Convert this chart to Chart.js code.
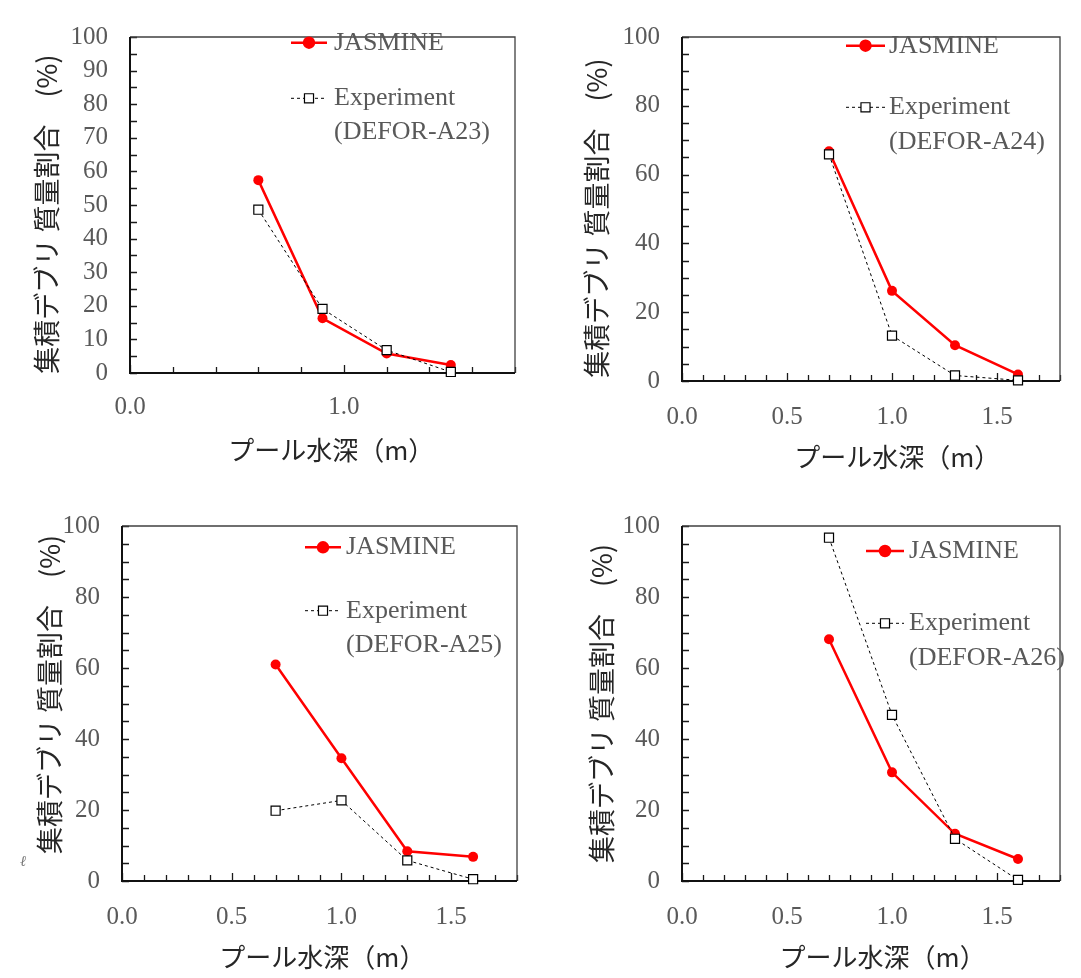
<!DOCTYPE html>
<html><head><meta charset="utf-8">
<script src="https://cdn.jsdelivr.net/npm/chart.js@4.4.1/dist/chart.umd.min.js"></script>
<style>
html,body{margin:0;padding:0;background:#fff;}
body{width:1081px;height:978px;position:relative;overflow:hidden;}
.p{position:absolute;}
#mark{position:absolute;left:20px;top:853px;font:italic 15px 'Liberation Serif';color:#777;}
</style></head><body>
<div class="p" style="left:0;top:0;"><canvas id="c1" width="540" height="489"></canvas></div>
<div class="p" style="left:540px;top:0;"><canvas id="c2" width="541" height="489"></canvas></div>
<div class="p" style="left:0;top:489px;"><canvas id="c3" width="540" height="489"></canvas></div>
<div class="p" style="left:540px;top:489px;"><canvas id="c4" width="541" height="489"></canvas></div>
<span id="mark">ℓ</span>
<script>
// ---- data ----
const depthA23 = [0.6, 0.9, 1.2, 1.5];
const depthA24 = [0.7, 1.0, 1.3, 1.6];
const depthA25 = [0.7, 1.0, 1.3, 1.6];
const depthA26 = [0.7, 1.0, 1.3, 1.6];

const jasmineA23 = [57.4, 16.3, 5.8, 2.4];
const experimentA23 = [48.6, 19.1, 6.8, 0.3];
const jasmineA24 = [66.8, 26.2, 10.4, 1.9];
const experimentA24 = [65.9, 13.2, 1.6, 0.2];
const jasmineA25 = [61.0, 34.6, 8.4, 6.8];
const experimentA25 = [19.8, 22.7, 5.8, 0.5];
const jasmineA26 = [68.1, 30.6, 13.3, 6.2];
const experimentA26 = [96.7, 46.8, 11.9, 0.3];

const seriesNames = ['JASMINE', 'Experiment'];
const caseNames = ['(DEFOR-A23)', '(DEFOR-A24)', '(DEFOR-A25)', '(DEFOR-A26)'];
const yTitle = '集積デブリ 質量割合　(%)';
const xTitle = 'プール水深（m）';

const xLabelsA23 = [0.0, 1.0];
const xLabels = [0.0, 0.5, 1.0, 1.5];
const yLabelsA23 = [0, 10, 20, 30, 40, 50, 60, 70, 80, 90, 100];
const yLabels = [0, 20, 40, 60, 80, 100];

// ---- plugins ----
const has = (arr, v) => arr.some(t => Math.abs(t - v) < 1e-6);

const framePlugin = {
  id: 'frame',
  beforeDatasetsDraw(chart) {
    const {ctx, chartArea: a, scales: {x, y}} = chart;
    const xl = chart.options.plugins.frame.xLabels;
    ctx.save();
    ctx.strokeStyle = '#1a1a1a';
    ctx.lineWidth = 1.3;
    ctx.beginPath();
    x.ticks.forEach(t => {
      const px = Math.round(x.getPixelForValue(t.value)) + 0.5;
      const len = has(xl, t.value) ? 8 : 6;
      ctx.moveTo(px, a.bottom); ctx.lineTo(px, a.bottom - len);
    });
    y.ticks.forEach(t => {
      const py = Math.round(y.getPixelForValue(t.value)) + 0.5;
      ctx.moveTo(a.left, py); ctx.lineTo(a.left + 7, py);
    });
    ctx.stroke();
    ctx.strokeStyle = '#404040';
    ctx.lineWidth = 1.3;
    ctx.beginPath();
    ctx.moveTo(a.left, a.top); ctx.lineTo(a.right, a.top); ctx.lineTo(a.right, a.bottom);
    ctx.stroke();
    ctx.strokeStyle = '#111';
    ctx.lineWidth = 2;
    ctx.beginPath();
    ctx.moveTo(a.left, a.top); ctx.lineTo(a.left, a.bottom); ctx.lineTo(a.right, a.bottom);
    ctx.stroke();
    ctx.restore();
  }
};

const legendPlugin = {
  id: 'inLegend',
  afterDraw(chart) {
    const o = chart.options.plugins.inLegend;
    const ctx = chart.ctx;
    const ds = chart.data.datasets;
    ctx.save();
    ctx.font = '26px "Liberation Serif"';
    ctx.fillStyle = '#595959';
    ctx.textBaseline = 'middle';
    ctx.textAlign = 'left';
    [0, 1].forEach(i => {
      const d = ds[i];
      const yy = o.rows[i];
      ctx.save();
      ctx.strokeStyle = d.borderColor;
      ctx.lineWidth = d.borderWidth;
      ctx.setLineDash(d.borderDash || []);
      ctx.beginPath(); ctx.moveTo(o.x0, yy); ctx.lineTo(o.x1, yy); ctx.stroke();
      ctx.setLineDash([]);
      const cx = (o.x0 + o.x1) / 2;
      ctx.fillStyle = d.pointBackgroundColor || d.backgroundColor;
      ctx.strokeStyle = d.pointBorderColor || d.borderColor;
      ctx.lineWidth = d.pointBorderWidth || 0;
      ctx.beginPath();
      if (d.pointStyle === 'rect') {
        const s = d.pointRadius * Math.SQRT1_2;
        ctx.rect(cx - s, yy - s, 2 * s, 2 * s);
      } else {
        ctx.arc(cx, yy, d.pointRadius, 0, Math.PI * 2);
      }
      ctx.fill();
      if (ctx.lineWidth) ctx.stroke();
      ctx.restore();
      ctx.fillText(d.label, o.textX, yy);
    });
    ctx.fillText(o.caseName, o.textX, o.rows[2]);
    ctx.restore();
  }
};

function pts(xs, ys) { return xs.map((v, i) => ({x: v, y: ys[i]})); }
const sp = n => ' '.repeat(n);

function makeChart(id, depth, jas, exp, caseName, xl, yl, xStep, L, leg) {
  return new Chart(document.getElementById(id), {
    type: 'line',
    data: {
      datasets: [
        {label: seriesNames[0], data: pts(depth, jas), borderColor: '#ff0000', backgroundColor: '#ff0000',
         borderWidth: 2.5, pointStyle: 'circle', pointRadius: 5, pointBorderWidth: 0, pointHoverRadius: 5,
         order: 1, clip: false},
        {label: seriesNames[1], data: pts(depth, exp), borderColor: '#000000', backgroundColor: '#ffffff',
         borderWidth: 1, borderDash: [3, 3], pointStyle: 'rect', pointRadius: 6.4,
         pointBackgroundColor: '#ffffff', pointBorderColor: '#000000', pointBorderWidth: 1.2,
         order: 0, clip: false}
      ]
    },
    options: {
      responsive: false, animation: false, devicePixelRatio: 1,
      layout: {autoPadding: false, padding: {top: L.top, right: L.right, left: 0, bottom: 0}},
      plugins: {
        legend: {display: false}, tooltip: {enabled: false},
        frame: {xLabels: xl},
        inLegend: Object.assign({caseName: caseName}, leg)
      },
      scales: {
        x: {
          type: 'linear', min: 0, max: 1.8,
          afterFit: s => { s.height = L.xh; },
          grid: {display: false, drawTicks: false}, border: {display: false},
          ticks: {stepSize: xStep, autoSkip: false, maxRotation: 0, padding: L.xpad, color: '#595959',
                  font: {family: 'Liberation Serif', size: 25},
                  callback: v => has(xl, v) ? Number(v).toFixed(1) : ''},
          title: {display: true, text: sp(L.xs) + xTitle, color: '#262626',
                  font: {family: "'Noto Sans CJK JP'", size: 26}, padding: {top: 0, bottom: L.xtp}}
        },
        y: {
          type: 'linear', min: 0, max: 100,
          afterFit: s => { s.width = L.yw; },
          grid: {display: false, drawTicks: false}, border: {display: false},
          ticks: {stepSize: 5, autoSkip: false, padding: 22, color: '#595959',
                  font: {family: 'Liberation Serif', size: 25},
                  callback: v => has(yl, v) ? String(v) : ''},
          title: {display: true, text: sp(L.yl) + yTitle + sp(L.yt), color: '#262626',
                  font: {family: "'Noto Sans CJK JP'", size: 27}, padding: {top: L.ytp, bottom: 0}}
        }
      }
    },
    plugins: [framePlugin, legendPlugin]
  });
}

makeChart('c1', depthA23, jasmineA23, experimentA23, caseNames[0], xLabelsA23, yLabelsA23, 0.2,
  {top: 22, right: 25, yw: 130, xh: 116, ytp: 30.5, xtp: 23.4, xpad: 19, xs: 3, yl: 0, yt: 3},
  {x0: 291, x1: 327, textX: 334, rows: [42.7, 98.3, 131.7]});
makeChart('c2', depthA24, jasmineA24, experimentA24, caseNames[1], xLabels, yLabels, 0.1,
  {top: 22, right: 4, yw: 142, xh: 108, ytp: 40.4, xtp: 16.7, xpad: 21, xs: 9, yl: 0, yt: 3},
  {x0: 306, x1: 345, textX: 349, rows: [45.7, 107.3, 141.7]});
makeChart('c3', depthA25, jasmineA25, experimentA25, caseNames[2], xLabels, yLabels, 0.1,
  {top: 32, right: 23, yw: 122, xh: 97, ytp: 33.8, xtp: 5.7, xpad: 21, xs: 1, yl: 3, yt: 0},
  {x0: 305, x1: 341, textX: 346, rows: [58.3, 121.7, 156]});
makeChart('c4', depthA26, jasmineA26, experimentA26, caseNames[3], xLabels, yLabels, 0.1,
  {top: 32, right: 4, yw: 142, xh: 97, ytp: 45.6, xtp: 5.7, xpad: 21, xs: 4, yl: 0, yt: 0},
  {x0: 326, x1: 364, textX: 369, rows: [62, 134.3, 169.3]});
</script>
</body></html>
